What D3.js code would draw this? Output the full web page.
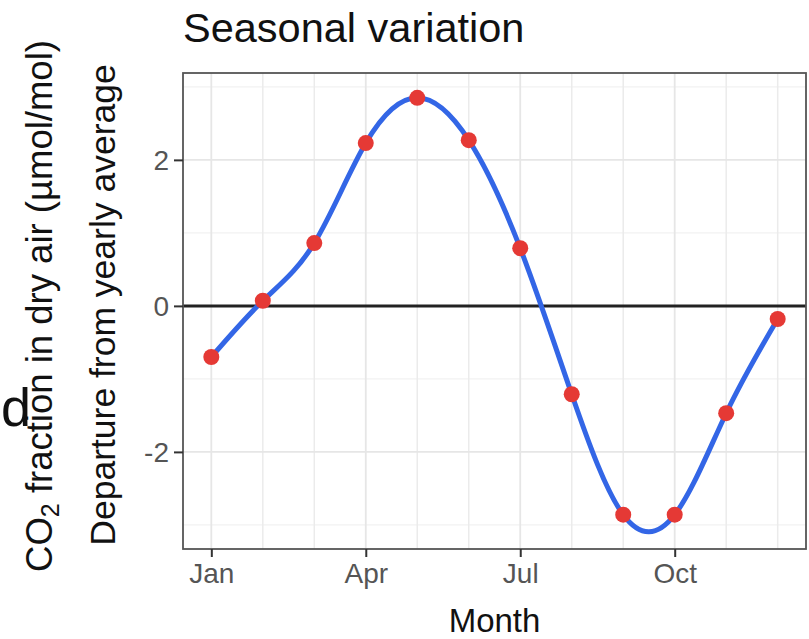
<!DOCTYPE html>
<html>
<head>
<meta charset="utf-8">
<script src="https://cdn.jsdelivr.net/npm/d3@7"></script>
<style>
  html, body { margin: 0; padding: 0; background: #fff; }
  svg { display: block; font-family: "Liberation Sans", Arial, Helvetica, sans-serif; }
</style>
</head>
<body>
<svg id="chart" width="809" height="639"></svg>
<script>
// ---- data ----
const months = [1, 2, 3, 4, 5, 6, 7, 8, 9, 10, 11, 12];
const departure = [-0.70, 0.07, 0.86, 2.23, 2.85, 2.27, 0.79, -1.21, -2.86, -2.86, -1.47, -0.18];
const xTickValues = [1, 4, 7, 10];
const xTickLabels = ["Jan", "Apr", "Jul", "Oct"];
const xMinorGrid = [2, 3, 5, 6, 8, 9, 11, 12];
const yTickValues = [-2, 0, 2];
const yTickLabels = ["-2", "0", "2"];
const yMinorGrid = [-3, -1, 1, 3];
const titleText = "Seasonal variation";
const xTitle = "Month";
const yTitle = "Departure from yearly average";

// ---- layout ----
const W = 809, H = 639;
const P = { left: 183, right: 806, top: 73, bottom: 549 };
const svg = d3.select("#chart");
svg.append("rect").attr("width", W).attr("height", H).attr("fill", "#fff");

const x = d3.scaleLinear().domain([0.45, 12.55]).range([P.left, P.right]);
const y = d3.scaleLinear().domain([-3.33, 3.19]).range([P.bottom, P.top]);

// grid
const g = svg.append("g");
g.selectAll(".ygm").data(yMinorGrid).join("line")
  .attr("x1", P.left).attr("x2", P.right)
  .attr("y1", d => y(d)).attr("y2", d => y(d))
  .attr("stroke", "#f2f2f2").attr("stroke-width", 1.2);
g.selectAll(".xgm").data(xMinorGrid).join("line")
  .attr("y1", P.top).attr("y2", P.bottom)
  .attr("x1", d => x(d)).attr("x2", d => x(d))
  .attr("stroke", "#ebebeb").attr("stroke-width", 1.5);
g.selectAll(".ygM").data(yTickValues).join("line")
  .attr("x1", P.left).attr("x2", P.right)
  .attr("y1", d => y(d)).attr("y2", d => y(d))
  .attr("stroke", "#e6e6e6").attr("stroke-width", 1.8);
g.selectAll(".xgM").data(xTickValues).join("line")
  .attr("y1", P.top).attr("y2", P.bottom)
  .attr("x1", d => x(d)).attr("x2", d => x(d))
  .attr("stroke", "#e6e6e6").attr("stroke-width", 1.8);

// zero line
svg.append("line").attr("x1", P.left).attr("x2", P.right)
  .attr("y1", y(0)).attr("y2", y(0))
  .attr("stroke", "#222").attr("stroke-width", 3);

// curve
const pts = months.map((m, i) => [m, departure[i]]);
svg.append("path").datum(pts)
  .attr("fill", "none").attr("stroke", "#3366e6").attr("stroke-width", 5)
  .attr("stroke-linecap", "round")
  .attr("d", d3.line().x(d => x(d[0])).y(d => y(d[1])).curve(d3.curveNatural));

// points
svg.selectAll(".pt").data(pts).join("circle")
  .attr("cx", d => x(d[0])).attr("cy", d => y(d[1])).attr("r", 8)
  .attr("fill", "#e53935");

// panel border
svg.append("rect").attr("x", P.left).attr("y", P.top)
  .attr("width", P.right - P.left).attr("height", P.bottom - P.top)
  .attr("fill", "none").attr("stroke", "#555").attr("stroke-width", 1.8);

// axes
const xAxis = svg.append("g").attr("transform", `translate(0,${P.bottom})`)
  .call(d3.axisBottom(x).tickValues(xTickValues)
    .tickFormat((d, i) => xTickLabels[i]).tickSize(8).tickPadding(6));
const yAxis = svg.append("g").attr("transform", `translate(${P.left},0)`)
  .call(d3.axisLeft(y).tickValues(yTickValues)
    .tickFormat((d, i) => yTickLabels[i]).tickSize(9).tickPadding(5));
[xAxis, yAxis].forEach(a => {
  a.select(".domain").remove();
  a.selectAll(".tick line").attr("stroke", "#333").attr("stroke-width", 2);
  a.selectAll(".tick text").attr("fill", "#555").attr("font-size", 28)
    .attr("font-family", "Liberation Sans, Arial, sans-serif");
});
yAxis.selectAll(".tick text").attr("dy", "0.36em");

// titles
svg.append("text").attr("x", P.left).attr("y", 42)
  .attr("font-size", 41.5).attr("fill", "#111").text(titleText);
svg.append("text").attr("x", (P.left + P.right) / 2).attr("y", 632)
  .attr("text-anchor", "middle").attr("font-size", 33).attr("fill", "#111").text(xTitle);
svg.append("text").attr("transform", "translate(115,305) rotate(-90)")
  .attr("text-anchor", "middle").attr("font-size", 35.5).attr("fill", "#111").text(yTitle);

// outer label (CO2 fraction)
const co2 = svg.append("text").attr("transform", "translate(52,306) rotate(-90)")
  .attr("text-anchor", "middle").attr("font-size", 36.5).attr("fill", "#111");
co2.append("tspan").text("CO");
co2.append("tspan").attr("font-size", 25).attr("dy", 7).text("2");
co2.append("tspan").attr("dy", -7).text(" fraction in dry air (µmol/mol)");

// fragment of neighbouring label
svg.append("text").attr("x", 1).attr("y", 426).attr("text-anchor", "start")
  .attr("font-size", 54).attr("fill", "#111").text("d");
</script>
</body>
</html>
